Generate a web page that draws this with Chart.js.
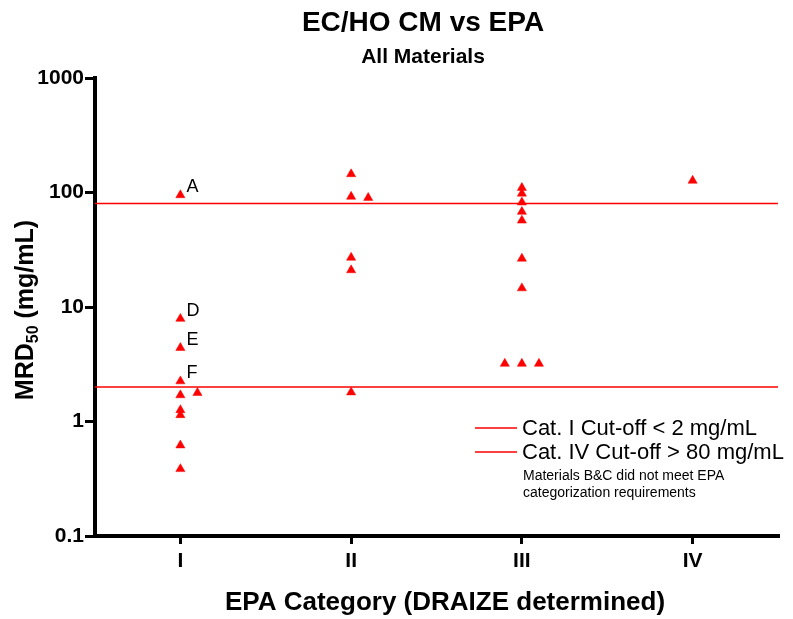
<!DOCTYPE html>
<html>
<head>
<meta charset="utf-8">
<script src="https://cdn.jsdelivr.net/npm/chart.js@4.4.1/dist/chart.umd.min.js"></script>
<style>
  html, body { margin: 0; padding: 0; background: #fff; }
  canvas { display: block; }
</style>
</head>
<body>
<canvas id="chart" width="793" height="619"></canvas>
<script>
// EPA category columns and tick labels
const categories = ['I', 'II', 'III', 'IV'];
const yTickValues = [0.1, 1, 10, 100, 1000];
const yTickLabels = ['0.1', '1', '10', '100', '1000'];

// MRD50 values (mg/mL) per EPA category
const catI = [95, 7.9, 4.4, 2.25, 1.7, 1.26, 1.14, 0.62, 0.385];
const catIMaterials = ['A', 'D', 'E', 'F', '', '', '', '', ''];
const catIShifted = [1.78];
const catII = [145, 92, 27, 21, 1.8];
const catIIShifted = [90];
const catIII = [110, 98, 82, 68, 57, 26.5, 14.6, 3.2];
const catIIILeft = [3.2];
const catIIIRight = [3.2];
const catIV = [127];

// Category cut-off lines
const cutoffValues = [2, 80];
const legendLabels = ['Cat. I Cut-off < 2 mg/mL', 'Cat. IV Cut-off > 80 mg/mL'];
const noteLines = ['Materials B&C did not meet EPA', 'categorization requirements'];

const chartTitle = 'EC/HO CM vs EPA';
const chartSubtitle = 'All Materials';
const xTitle = 'EPA Category (DRAIZE determined)';

const FONT = '"Liberation Sans", Arial, Helvetica, sans-serif';
const RED = '#ff0000';
const SPREAD = 0.1; // sideways shift for tied values within a column

function column(values, catIndex, shift) {
  return values.map(v => ({ x: catIndex + 0.5 + shift, y: v }));
}

const markerStyle = {
  type: 'scatter',
  pointStyle: 'triangle',
  pointRadius: 5.3,
  pointHoverRadius: 5.3,
  backgroundColor: RED,
  borderColor: RED,
  borderWidth: 0.5,
  showLine: false
};

const datasets = [
  Object.assign({ label: 'Category I', data: column(catI, 0, 0) }, markerStyle),
  Object.assign({ label: 'Others', data: [
    ...column(catIShifted, 0, SPREAD),
    ...column(catII, 1, 0),
    ...column(catIIShifted, 1, SPREAD),
    ...column(catIII, 2, 0),
    ...column(catIIILeft, 2, -SPREAD),
    ...column(catIIIRight, 2, SPREAD),
    ...column(catIV, 3, 0)
  ] }, markerStyle)
];

cutoffValues.forEach((v, i) => {
  datasets.push({
    type: 'line',
    label: legendLabels[i],
    data: [{ x: 0, y: v }, { x: categories.length, y: v }],
    borderColor: RED,
    borderWidth: 1.5,
    pointRadius: 0,
    fill: false,
    order: 5
  });
});

const textLayer = {
  id: 'textLayer',
  afterDraw(chart) {
    const ctx = chart.ctx;
    ctx.save();
    ctx.fillStyle = '#000';

    // titles
    ctx.textAlign = 'center';
    ctx.textBaseline = 'alphabetic';
    ctx.font = `bold 28px ${FONT}`;
    ctx.fillText(chartTitle, 423, 31);
    ctx.font = `bold 21px ${FONT}`;
    ctx.fillText(chartSubtitle, 423, 63);

    // x axis title
    ctx.font = `bold 26px ${FONT}`;
    ctx.fillText(xTitle, 445, 610);

    // y axis title with subscript
    ctx.save();
    ctx.translate(33, 310);
    ctx.rotate(-Math.PI / 2);
    const mainFont = `bold 25px ${FONT}`;
    const subFont = `bold 16px ${FONT}`;
    ctx.font = mainFont;
    const w1 = ctx.measureText('MRD').width;
    const w3 = ctx.measureText(' (mg/mL)').width;
    ctx.font = subFont;
    const w2 = ctx.measureText('50').width;
    let x0 = -(w1 + w2 + w3) / 2;
    ctx.textAlign = 'left';
    ctx.font = mainFont;
    ctx.fillText('MRD', x0, 0);
    ctx.font = subFont;
    ctx.fillText('50', x0 + w1, 5);
    ctx.font = mainFont;
    ctx.fillText(' (mg/mL)', x0 + w1 + w2, 0);
    ctx.restore();

    // material labels next to category I points
    const meta = chart.getDatasetMeta(0);
    ctx.textAlign = 'left';
    ctx.textBaseline = 'middle';
    ctx.font = `18px ${FONT}`;
    meta.data.forEach((pt, i) => {
      const name = catIMaterials[i];
      if (name) ctx.fillText(name, pt.x + 6, pt.y - 8);
    });

    // legend
    const rows = [428, 452];
    legendLabels.forEach((lab, i) => {
      ctx.strokeStyle = RED;
      ctx.lineWidth = 1.5;
      ctx.beginPath();
      ctx.moveTo(475, rows[i]);
      ctx.lineTo(517, rows[i]);
      ctx.stroke();
      ctx.fillStyle = '#000';
      ctx.font = `22px ${FONT}`;
      ctx.fillText(lab, 522, rows[i] + 1);
    });
    ctx.font = `14px ${FONT}`;
    ctx.fillText(noteLines[0], 523, 476);
    ctx.fillText(noteLines[1], 523, 493);

    ctx.restore();
  }
};

new Chart(document.getElementById('chart'), {
  type: 'scatter',
  data: { datasets },
  options: {
    responsive: false,
    animation: false,
    devicePixelRatio: 1,
    layout: { padding: { top: 78, right: 15, bottom: 0, left: 0 } },
    plugins: {
      legend: { display: false },
      title: { display: false },
      tooltip: { enabled: false }
    },
    scales: {
      x: {
        type: 'linear',
        min: 0,
        max: categories.length,
        afterBuildTicks(scale) {
          scale.ticks = categories.map((c, i) => ({ value: i + 0.5 }));
        },
        afterFit(scale) { scale.height = 83; },
        ticks: {
          autoSkip: false,
          maxRotation: 0,
          padding: 5,
          color: '#000',
          font: { family: FONT, size: 21, weight: 'bold' },
          callback: (v) => categories[Math.floor(v)]
        },
        grid: {
          drawOnChartArea: false,
          drawTicks: true,
          tickLength: 8,
          lineWidth: 3,
          color: '#000'
        },
        border: { display: true, width: 4, color: '#000' }
      },
      y: {
        type: 'logarithmic',
        min: 0.1,
        max: 1000,
        afterBuildTicks(scale) {
          scale.ticks = yTickValues.map(v => ({ value: v }));
        },
        afterFit(scale) { scale.width = 95; },
        ticks: {
          autoSkip: false,
          padding: 1,
          color: '#000',
          font: { family: FONT, size: 21, weight: 'bold' },
          callback: (v) => {
            const i = yTickValues.findIndex(t => Math.abs(t - v) < 1e-9 * Math.max(1, v));
            return i >= 0 ? yTickLabels[i] : '';
          }
        },
        grid: {
          drawOnChartArea: false,
          drawTicks: true,
          tickLength: 10,
          lineWidth: 3,
          color: '#000'
        },
        border: { display: true, width: 4, color: '#000' }
      }
    }
  },
  plugins: [textLayer]
});
</script>
</body>
</html>
